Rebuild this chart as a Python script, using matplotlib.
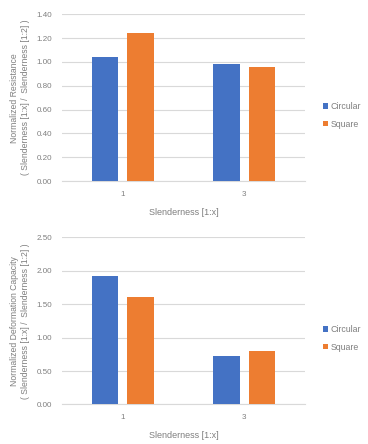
import numpy as np
import matplotlib
matplotlib.use("Agg")
import matplotlib.pyplot as plt

categories = ["1", "3"]
series_names = ["Circular", "Square"]
resistance_circular = [1.04, 0.98]
resistance_square = [1.24, 0.96]
deformation_circular = [1.92, 0.72]
deformation_square = [1.61, 0.80]

BLUE = "#4472C4"
ORANGE = "#ED7D31"
GRAY = "#7f7f7f"

plt.rcParams['font.family'] = ['Liberation Sans', 'DejaVu Sans']


def draw_panel(ax, circ, sq, ymax, step, ylabel):
    x = np.arange(len(categories))
    w = 0.22
    ax.bar(x - 0.145, circ, w, color=BLUE, label=series_names[0], zorder=3)
    ax.bar(x + 0.145, sq, w, color=ORANGE, label=series_names[1], zorder=3)
    ax.set_xlim(-0.5, len(categories) - 0.5)
    ax.set_ylim(0, ymax)
    ticks = np.arange(0, ymax + step / 2, step)
    ax.set_yticks(ticks)
    ax.set_yticklabels([f"{t:.2f}" for t in ticks])
    ax.set_xticks(x)
    ax.set_xticklabels(categories)
    ax.grid(axis='y', color='#d9d9d9', linewidth=0.8, zorder=0)
    for s in ['top', 'right', 'left']:
        ax.spines[s].set_visible(False)
    ax.spines['bottom'].set_color('#d9d9d9')
    ax.tick_params(length=0, labelsize=5.8, colors=GRAY, pad=7)
    ax.set_xlabel("Slenderness [1:x]", fontsize=6.5, color=GRAY, labelpad=7)
    ax.set_ylabel(ylabel, fontsize=6.2, color=GRAY, labelpad=5, linespacing=1.2)
    leg = ax.legend(loc='center left', bbox_to_anchor=(1.04, 0.395), frameon=False,
                    fontsize=6.3, handlelength=0.6, handleheight=0.6,
                    handletextpad=0.3, labelspacing=1.0)
    for t in leg.get_texts():
        t.set_color(GRAY)


fig = plt.figure(figsize=(3.68, 4.44), dpi=100)
ax1 = fig.add_axes([0.168, 0.592, 0.661, 0.376])
ax2 = fig.add_axes([0.168, 0.089, 0.661, 0.377])

draw_panel(ax1, resistance_circular, resistance_square, 1.4, 0.2,
           "Normalized Resistance\n( Slenderness [1:x] /  Slenderness [1:2] )")
draw_panel(ax2, deformation_circular, deformation_square, 2.5, 0.5,
           "Normalized Deformation Capacity\n( Slenderness [1:x] /  Slenderness [1:2] )")

fig.savefig("out.png", dpi=100)
